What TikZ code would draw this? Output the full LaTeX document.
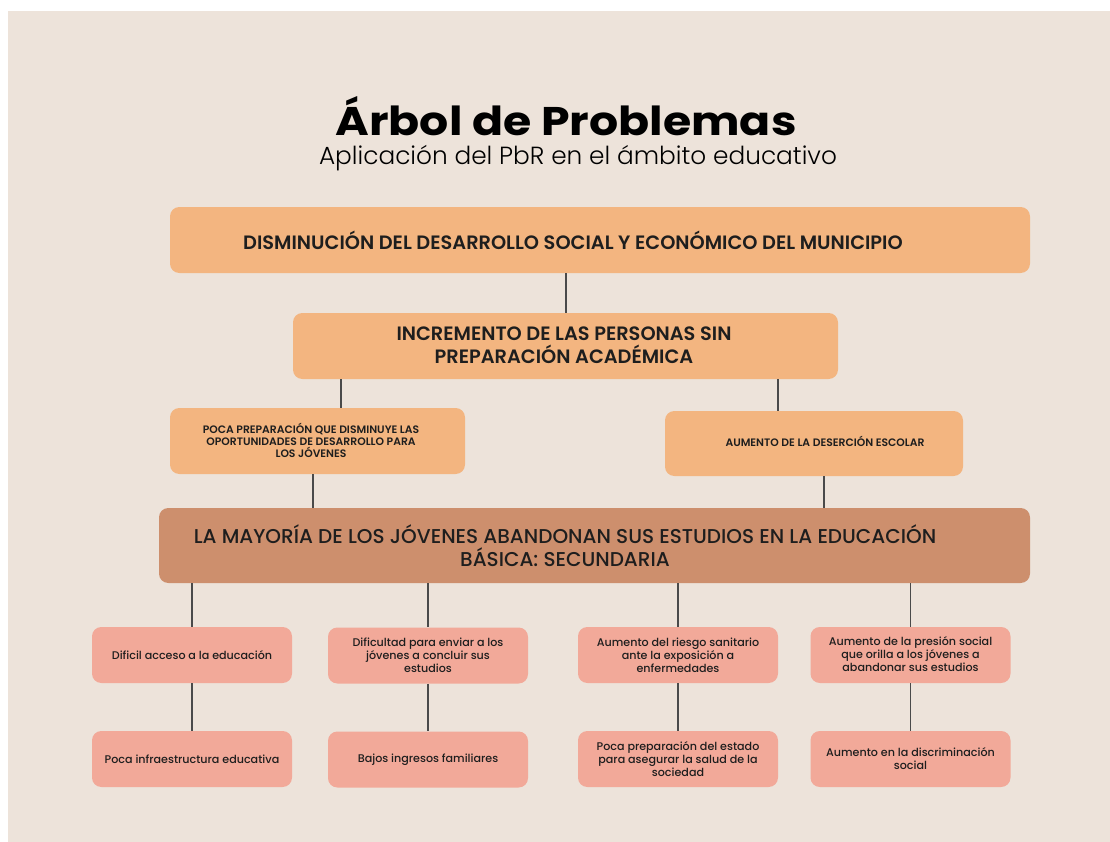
\documentclass[tikz,border=0pt]{standalone}
\usepackage{fontspec}
\setmainfont{Poppins}
\newfontfamily\fbold{Poppins Bold}[FakeStretch=1.145]
\newfontfamily\flight{Poppins Light}
\newfontfamily\fsemi{Poppins SemiBold}
\newfontfamily\fmed{Poppins Medium}
\definecolor{bg}{HTML}{EDE3DA}
\definecolor{orangebox}{HTML}{F3B580}
\definecolor{brownbox}{HTML}{CD8F6D}
\definecolor{pinkbox}{HTML}{F2A999}
\definecolor{linec}{HTML}{4A4A4A}
\definecolor{txt}{HTML}{1E1E1E}
\begin{document}
\begin{tikzpicture}[x=0.75pt,y=-0.75pt,
  box/.style={rounded corners=7pt,inner sep=0pt,draw=none},
  obox/.style={box,fill=orangebox},
  bbox/.style={box,fill=brownbox},
  pbox/.style={box,fill=pinkbox,minimum width=150pt,minimum height=42pt},
  lbl/.style={text=txt,align=center,inner sep=0pt},
  plbl/.style={lbl,font=\fmed\fontsize{8.35}{9.75}\selectfont},
  conn/.style={draw=linec,line width=1.1pt}]
\useasboundingbox (0,0) rectangle (1110,842);
\fill[white] (0,0) rectangle (1110,842);
\fill[bg] (8,11) rectangle (1110,842);
% title
\node[anchor=base,inner sep=0pt] (title) at (566,135) {\fbold\fontsize{30}{33}\selectfont Árbol de Problemas};
\node[anchor=base,inner sep=0pt] (subtitle) at (578,164) {\flight\fontsize{18.6}{20}\selectfont Aplicación del PbR en el ámbito educativo};
% boxes
\node[obox,minimum width=645pt,minimum height=49.5pt] (top) at (600,240) {};
\node[lbl,font=\fsemi\fontsize{14.5}{17}\selectfont] (toptxt) at (573,240) {DISMINUCIÓN DEL DESARROLLO SOCIAL Y ECONÓMICO DEL MUNICIPIO};
\node[obox,minimum width=408.75pt,minimum height=49.5pt] (second) at (565.5,346) {};
\node[lbl,font=\fsemi\fontsize{14.5}{17}\selectfont] (secondtxt) at (564,345) {INCREMENTO DE LAS PERSONAS SIN\\PREPARACIÓN ACADÉMICA};
\node[obox,minimum width=221.25pt,minimum height=49.5pt] (leftmid) at (317.5,441) {};
\node[lbl,font=\fsemi\fontsize{8.1}{9}\selectfont] (leftmidtxt) at (311,440) {POCA PREPARACIÓN QUE DISMINUYE LAS\\OPORTUNIDADES DE DESARROLLO PARA\\LOS JÓVENES};
\node[obox,minimum width=223.5pt,minimum height=48.75pt] (rightmid) at (814,443.5) {};
\node[lbl,font=\fsemi\fontsize{8.1}{9}\selectfont] (rightmidtxt) at (825,441) {AUMENTO DE LA DESERCIÓN ESCOLAR};
\node[bbox,minimum width=653.25pt,minimum height=56.25pt] (core) at (594.5,545.5) {};
\node[lbl,font=\fmed\fontsize{15}{17.25}\selectfont] (coretxt) at (565,546) {LA MAYORÍA DE LOS JÓVENES ABANDONAN SUS ESTUDIOS EN LA EDUCACIÓN\\BÁSICA: SECUNDARIA};
% pink row 1
\node[pbox] (a1) at (192,655) {};
\node[plbl] (a1t) at (a1) {Dificil acceso a la educación};
\node[pbox] (b1) at (428,655.5) {};
\node[plbl] (b1t) at (428,655) {Dificultad para enviar a los\\jóvenes a concluir sus\\estudios};
\node[pbox] (c1) at (678,655) {};
\node[plbl] (c1t) at (678,655) {Aumento del riesgo sanitario\\ante la exposición a\\enfermedades};
\node[pbox] (d1) at (910.5,655) {};
\node[plbl] (d1t) at (910.5,654) {Aumento de la presión social\\que orilla a los jóvenes a\\abandonar sus estudios};
% pink row 2
\node[pbox] (a2) at (192,759) {};
\node[plbl] (a2t) at (a2) {Poca infraestructura educativa};
\node[pbox] (b2) at (428,759.5) {};
\node[plbl] (b2t) at (428,759.5) {Bajos ingresos familiares};
\node[pbox] (c2) at (678,759) {};
\node[plbl] (c2t) at (678,759) {Poca preparación del estado\\para asegurar la salud de la\\sociedad};
\node[pbox] (d2) at (910.5,759) {};
\node[plbl] (d2t) at (910.5,759) {Aumento en la discriminación\\social};
% connectors
\draw[conn] (top.south -| 566,0) -- (second.north -| 566,0);
\draw[conn] (second.south -| 341,0) -- (leftmid.north -| 341,0);
\draw[conn] (second.south -| 778,0) -- (rightmid.north -| 778,0);
\draw[conn] (leftmid.south -| 313,0) -- (core.north -| 313,0);
\draw[conn] (rightmid.south -| 824,0) -- (core.north -| 824,0);
\draw[conn] (core.south -| a1) -- (a1.north);
\draw[conn] (core.south -| b1) -- (b1.north);
\draw[conn] (core.south -| c1) -- (c1.north);
\draw[conn] (core.south -| d1) -- (d1.north);
\draw[conn] (a1) -- (a2);
\draw[conn] (b1) -- (b2);
\draw[conn] (c1) -- (c2);
\draw[conn] (d1) -- (d2);
\end{tikzpicture}
\end{document}
